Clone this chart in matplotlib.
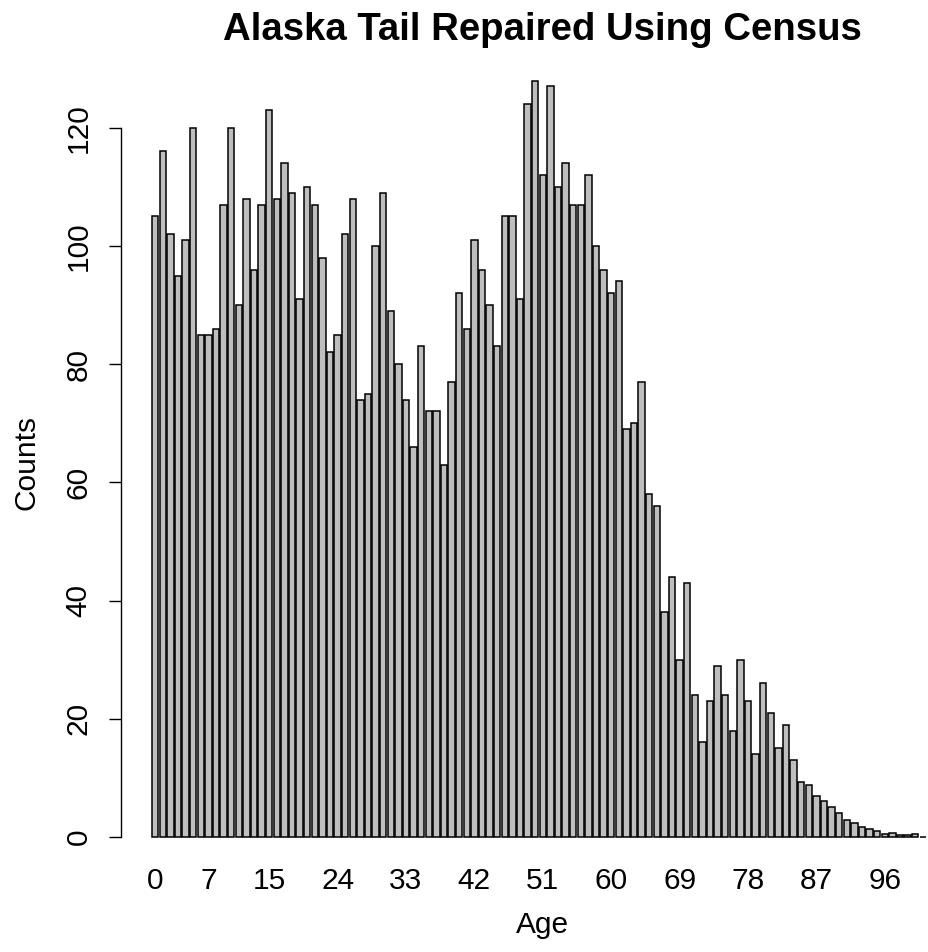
import matplotlib
matplotlib.use("Agg")
import matplotlib.pyplot as plt

plt.rcParams['font.family'] = ['Liberation Sans', 'DejaVu Sans']

# Alaska population counts by single year of age, tail smoothed from census
ages = list(range(0, 102))
counts = [
    105, 116, 102, 95, 101, 120, 85, 85, 86, 107,
    120, 90, 108, 96, 107, 123, 108, 114, 109, 91,
    110, 107, 98, 82, 85, 102, 108, 74, 75, 100,
    109, 89, 80, 74, 66, 83, 72, 72, 63, 77,
    92, 86, 101, 96, 90, 83, 105, 105, 91, 124,
    128, 112, 127, 110, 114, 107, 107, 112, 100, 96,
    92, 94, 69, 70, 77, 58, 56, 38, 44, 30,
    43, 24, 16, 23, 29, 24, 18, 30, 23, 14,
    26, 21, 15, 19, 13, 9.36, 8.74, 7.0, 6.1, 5.0,
    4.0, 2.9, 2.4, 1.6, 1.35, 1.0, 0.56, 0.6, 0.28, 0.28,
    0.45, 0.05,
]
shown_ages = [0, 7, 15, 24, 33, 42, 51, 60, 69, 78, 87, 96]
y_ticks = [0, 20, 40, 60, 80, 100, 120]

W, H = 929, 952
fig = plt.figure(figsize=(W / 100, H / 100), dpi=100)

# plot region in pixels (runs a little past the right edge)
left, right, top, bottom = 121, 957, 50, 875
ax = fig.add_axes([left / W, 1 - bottom / H, (right - left) / W, (bottom - top) / H])

ax.bar(ages, counts, width=1 / 1.2, color='#BEBEBE', edgecolor='black',
       linewidth=1.1, clip_on=False)

ax.set_xlim(-4.49, 105.49)
ax.set_ylim(-6.45, 133.17)

for side in ['top', 'right', 'bottom']:
    ax.spines[side].set_visible(False)
ax.spines['left'].set_bounds(0, 120)
ax.spines['left'].set_linewidth(1.0)

ax.set_yticks(y_ticks)
ax.set_yticklabels([str(v) for v in y_ticks], fontsize=21.5)
ax.tick_params(axis='y', length=8.6, width=1.0, pad=12)
for lab in ax.get_yticklabels():
    lab.set_rotation(90)
    lab.set_va('center')

ax.set_xticks(shown_ages)
ax.set_xticklabels([str(a) for a in shown_ages], fontsize=21.5)
ax.tick_params(axis='x', length=0, pad=-5.5)

fig.text(542 / W, 1 - 30 / H, 'Alaska Tail Repaired Using Census',
         ha='center', va='center', fontsize=27.6, fontweight='bold')
fig.text(542 / W, 1 - 925 / H, 'Age', ha='center', va='center', fontsize=21.5)
fig.text(27 / W, 1 - 462 / H, 'Counts', ha='center', va='center',
         rotation=90, fontsize=21.5)

fig.savefig('out.png', dpi=100)
